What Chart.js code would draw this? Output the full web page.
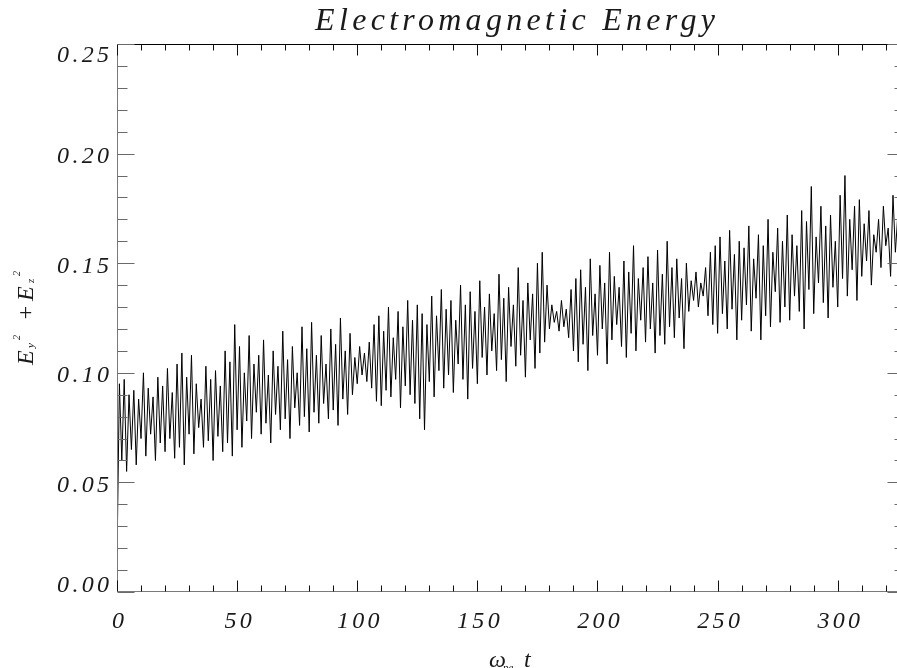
<!DOCTYPE html>
<html>
<head>
<meta charset="utf-8">
<title>Electromagnetic Energy</title>
<script src="https://cdn.jsdelivr.net/npm/chart.js@4.4.0/dist/chart.umd.min.js"></script>
<style>
    html, body { margin: 0; padding: 0; overflow: hidden; background: #fff; }
    /* the right axis of the original plot sits just past the window edge */
    #wrap { position: relative; width: 912px; height: 668px; }
</style>
</head>
<body>
<div id="wrap"><canvas id="chart"></canvas></div>
<script>
// E_y^2 + E_z^2, one sample per unit of omega_pe t
const energy = [
    0.015, 0.095, 0.060, 0.097, 0.055, 0.090, 0.065, 0.092, 0.058, 0.088,
    0.070, 0.100, 0.062, 0.093, 0.072, 0.089, 0.060, 0.098, 0.068, 0.094,
    0.064, 0.102, 0.070, 0.091, 0.061, 0.104, 0.066, 0.109, 0.058, 0.098,
    0.072, 0.108, 0.063, 0.095, 0.075, 0.088, 0.066, 0.103, 0.069, 0.097,
    0.060, 0.101, 0.071, 0.094, 0.064, 0.110, 0.068, 0.105, 0.062, 0.122,
    0.074, 0.112, 0.066, 0.100, 0.078, 0.117, 0.070, 0.104, 0.082, 0.108,
    0.072, 0.115, 0.077, 0.099, 0.068, 0.110, 0.081, 0.103, 0.074, 0.119,
    0.079, 0.106, 0.070, 0.112, 0.084, 0.100, 0.076, 0.121, 0.080, 0.111,
    0.073, 0.123, 0.082, 0.108, 0.077, 0.117, 0.086, 0.104, 0.079, 0.120,
    0.083, 0.113, 0.076, 0.125, 0.088, 0.110, 0.081, 0.118, 0.090, 0.107,
    0.095, 0.112, 0.099, 0.109, 0.096, 0.114, 0.093, 0.122, 0.087, 0.126,
    0.085, 0.119, 0.092, 0.130, 0.089, 0.116, 0.097, 0.128, 0.084, 0.121,
    0.094, 0.133, 0.090, 0.124, 0.086, 0.131, 0.079, 0.127, 0.074, 0.122,
    0.096, 0.135, 0.089, 0.126, 0.101, 0.138, 0.093, 0.129, 0.099, 0.133,
    0.091, 0.124, 0.104, 0.140, 0.097, 0.131, 0.088, 0.137, 0.102, 0.128,
    0.095, 0.142, 0.107, 0.130, 0.099, 0.136, 0.110, 0.127, 0.101, 0.145,
    0.106, 0.134, 0.096, 0.139, 0.112, 0.131, 0.103, 0.148, 0.108, 0.133,
    0.098, 0.141, 0.115, 0.136, 0.102, 0.150, 0.109, 0.155, 0.114, 0.140,
    0.120, 0.131, 0.123, 0.128, 0.119, 0.133, 0.121, 0.129, 0.116, 0.138,
    0.110, 0.143, 0.105, 0.147, 0.113, 0.139, 0.101, 0.152, 0.117, 0.136,
    0.108, 0.149, 0.120, 0.141, 0.104, 0.155, 0.115, 0.144, 0.122, 0.139,
    0.112, 0.151, 0.107, 0.146, 0.118, 0.158, 0.110, 0.143, 0.124, 0.148,
    0.114, 0.153, 0.120, 0.141, 0.109, 0.156, 0.117, 0.145, 0.113, 0.160,
    0.121, 0.148, 0.116, 0.152, 0.125, 0.143, 0.111, 0.150, 0.128, 0.142,
    0.133, 0.146, 0.130, 0.141, 0.135, 0.148, 0.126, 0.155, 0.122, 0.158,
    0.118, 0.162, 0.127, 0.151, 0.120, 0.165, 0.129, 0.154, 0.115, 0.160,
    0.124, 0.157, 0.131, 0.167, 0.119, 0.152, 0.134, 0.163, 0.115, 0.158,
    0.126, 0.170, 0.121, 0.155, 0.137, 0.166, 0.123, 0.160, 0.130, 0.172,
    0.124, 0.163, 0.135, 0.158, 0.128, 0.174, 0.120, 0.169, 0.138, 0.185,
    0.127, 0.162, 0.141, 0.176, 0.132, 0.167, 0.125, 0.172, 0.139, 0.160,
    0.130, 0.181, 0.143, 0.190, 0.135, 0.170, 0.147, 0.176, 0.133, 0.179,
    0.144, 0.168, 0.151, 0.174, 0.140, 0.163, 0.155, 0.170, 0.148, 0.176,
    0.158, 0.166, 0.144, 0.181, 0.155, 0.172, 0.150, 0.175, 0.158
];

const xTicks = [0, 50, 100, 150, 200, 250, 300];
const yTicks = [0.00, 0.05, 0.10, 0.15, 0.20, 0.25];
const xRange = [0, 328];
const yRange = [0, 0.25];
const xMinorStep = 10;
const yMinorStep = 0.01;

const titleText = 'Electromagnetic Energy';
const labelFont = 'italic 24px "Liberation Serif", "Times New Roman", serif';

// draw text with extra spacing between glyphs, like the IDL vector font
function spacedText(ctx, text, x, y, spacing, align) {
    ctx.letterSpacing = '0px';
    const width = ctx.measureText(text).width + spacing * (text.length - 1);
    let left = x;
    if (align === 'center') left = x - width / 2;
    if (align === 'right') left = x - width;
    ctx.textAlign = 'left';
    ctx.letterSpacing = spacing + 'px';
    ctx.fillText(text, left, y);
    ctx.letterSpacing = '0px';
}

// IDL style box: axes on all four sides with ticks pointing inwards
const idlFrame = {
    id: 'idlFrame',
    afterDraw(chart) {
        const { ctx, chartArea: area, scales: { x, y } } = chart;
        const left = area.left + 0.5;
        const right = area.right - 0.5;
        const top = area.top + 0.5;
        const bottom = area.bottom - 0.5;

        ctx.save();
        ctx.lineWidth = 1;

        // box
        ctx.strokeStyle = '#000';
        ctx.beginPath();
        ctx.moveTo(left, top);
        ctx.lineTo(right, top);
        ctx.lineTo(right, bottom);
        ctx.stroke();
        ctx.strokeStyle = '#7a7a7a';
        ctx.beginPath();
        ctx.moveTo(left, top);
        ctx.lineTo(left, bottom);
        ctx.lineTo(right, bottom);
        ctx.stroke();

        // x ticks, bottom and top
        ctx.strokeStyle = '#111';
        ctx.beginPath();
        for (let v = xRange[0]; v <= xRange[1]; v += xMinorStep) {
            const px = Math.round(x.getPixelForValue(v)) + 0.5;
            const len = v % 50 === 0 ? 11 : 6;
            ctx.moveTo(px, bottom);
            ctx.lineTo(px, bottom - len);
            ctx.moveTo(px, top);
            ctx.lineTo(px, top + len);
        }
        ctx.stroke();

        // y ticks, left and right
        ctx.strokeStyle = '#6a6a6a';
        ctx.beginPath();
        for (let i = 0; i <= 25; i++) {
            const py = Math.round(y.getPixelForValue(i * yMinorStep)) + 0.5;
            const len = i % 5 === 0 ? 17 : 10;
            ctx.moveTo(left, py);
            ctx.lineTo(left + len, py);
            ctx.moveTo(right, py);
            ctx.lineTo(right - len, py);
        }
        ctx.stroke();

        // tick labels
        ctx.fillStyle = '#1a1a1a';
        ctx.font = labelFont;
        ctx.textBaseline = 'alphabetic';
        xTicks.forEach(v => {
            spacedText(ctx, String(v), x.getPixelForValue(v) + 1, 627.5, 3.3, 'center');
        });
        yTicks.forEach(v => {
            const py = y.getPixelForValue(v);
            const base = Math.min(Math.max(py + 9.5, area.top + 17.7), area.bottom);
            spacedText(ctx, v.toFixed(2), 109, base, 3.3, 'right');
        });

        // title
        ctx.font = 'italic 32px "Liberation Serif", "Times New Roman", serif';
        spacedText(ctx, titleText, 515, 30, 4.3, 'center');

        // x axis title: omega_pe t
        ctx.font = labelFont;
        ctx.fillText('\u03c9', 489, 666.5);
        ctx.font = 'italic 11px "Liberation Serif", serif';
        ctx.fillText('pe', 503, 671);
        ctx.font = labelFont;
        ctx.fillText('t', 524, 666.5);

        // y axis title: E_y^2 + E_z^2, rotated
        ctx.translate(33, 365);
        ctx.rotate(-Math.PI / 2);
        ctx.font = labelFont;
        ctx.fillText('E', 0, 0);
        ctx.fillText('+', 44, 0);
        ctx.fillText('E', 64, 0);
        ctx.font = 'italic 11px "Liberation Serif", serif';
        ctx.fillText('y', 17, 1);
        ctx.fillText('z', 82, 1);
        ctx.font = 'italic 10px "Liberation Serif", serif';
        ctx.fillText('2', 25, -13);
        ctx.fillText('2', 89, -13);

        ctx.restore();
    }
};

new Chart(document.getElementById('chart'), {
    type: 'line',
    data: {
        datasets: [{
            data: energy.map((v, i) => ({ x: i, y: v })),
            borderColor: '#000',
            borderWidth: 1,
            pointRadius: 0,
            tension: 0,
            fill: false
        }]
    },
    options: {
        responsive: true,
        maintainAspectRatio: false,
        animation: false,
        events: [],
        layout: {
            padding: { left: 117, top: 44, right: 7, bottom: 76 }
        },
        plugins: {
            legend: { display: false },
            title: { display: false },
            tooltip: { enabled: false }
        },
        scales: {
            x: { type: 'linear', display: false, min: xRange[0], max: xRange[1] },
            y: { type: 'linear', display: false, min: yRange[0], max: yRange[1] }
        }
    },
    plugins: [idlFrame]
});
</script>
</body>
</html>
